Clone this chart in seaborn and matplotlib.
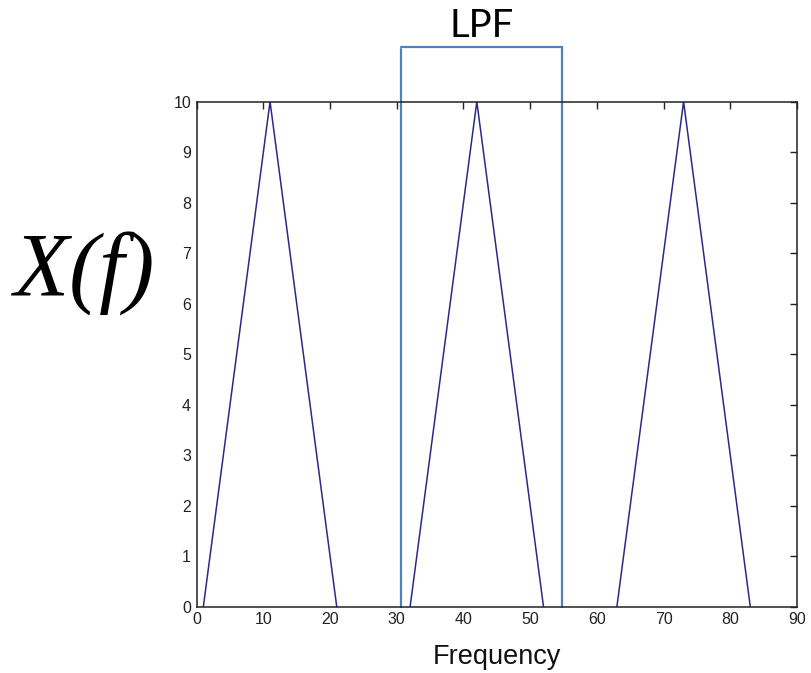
import matplotlib
matplotlib.use("Agg")
import matplotlib.pyplot as plt
import seaborn as sns
import pandas as pd

# Data
band = [1, 1, 1, 2, 2, 2, 3, 3, 3]
frequency = [1, 11, 21, 32, 42, 52, 63, 73, 83]
amplitude = [0, 10, 0, 0, 10, 0, 0, 10, 0]
lpf_edges = [30.7, 54.7]
lpf_top = 11.09
x_ticks = [0, 10, 20, 30, 40, 50, 60, 70, 80, 90]
y_ticks = [0, 1, 2, 3, 4, 5, 6, 7, 8, 9, 10]

df = pd.DataFrame({"band": band, "Frequency": frequency, "X": amplitude})

sns.set_theme(style="white")
plt.rcParams["font.family"] = ["Liberation Sans", "DejaVu Sans"]
fig = plt.figure(figsize=(8.12, 6.73), dpi=100)
ax = fig.add_axes([0.2422, 0.0985, 0.7393, 0.7505])

sns.lineplot(data=df, x="Frequency", y="X", units="band", estimator=None,
             color="#2a2a86", linewidth=1.1, ax=ax, legend=False)

ax.set_xlim(0, 90)
ax.set_ylim(0, 10)
ax.set_xticks(x_ticks)
ax.set_yticks(y_ticks)
ax.tick_params(direction="in", length=5, width=1, colors="#222222",
               labelcolor="#222222", labelsize=11.5, top=True, right=True,
               pad=4)
for sp in ax.spines.values():
    sp.set_color("#222222")
    sp.set_linewidth(1.1)

ax.set_xlabel("Frequency", fontsize=19.5, color="#111111", labelpad=12)
ax.set_ylabel("")

# LPF bracket
lc = "#4f81bd"
ax.plot([lpf_edges[0], lpf_edges[0]], [0, lpf_top - 0.04], color=lc, lw=1.6, clip_on=False)
ax.plot([lpf_edges[1], lpf_edges[1]], [0, lpf_top], color=lc, lw=1.6, clip_on=False)
ax.plot([lpf_edges[0], lpf_edges[1]], [lpf_top, lpf_top], color=lc, lw=1.6, clip_on=False)
ax.annotate("LPF", xy=(sum(lpf_edges) / 2, lpf_top), xytext=(0, 7),
            textcoords="offset points", ha="center", va="baseline",
            fontsize=27.5, family="Lato", color="black", annotation_clip=False)

fig.text(84 / 812, 1 - 273 / 673, "X(f)", ha="center", va="center",
         fontsize=65, family="Liberation Serif", style="italic", color="black")

fig.savefig("out.png", dpi=100, facecolor="white")
